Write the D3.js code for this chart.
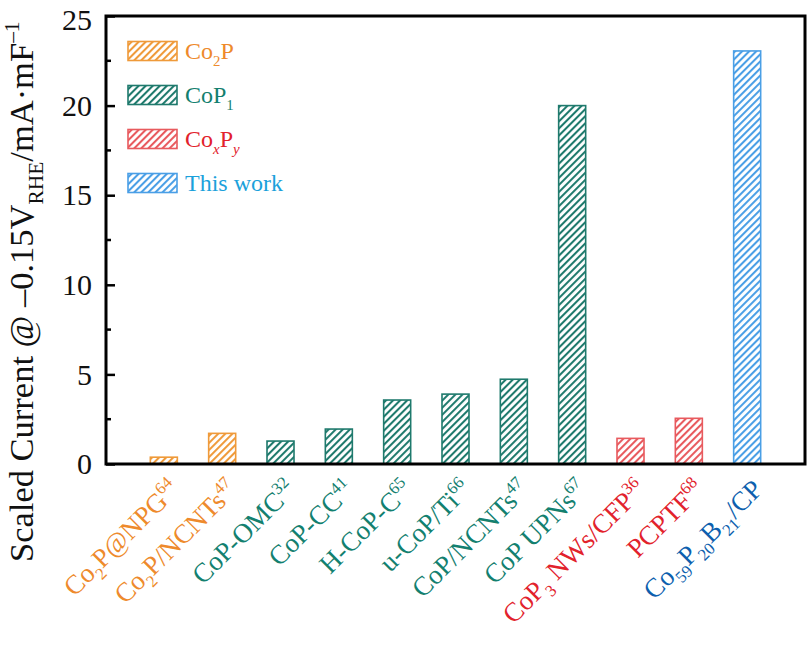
<!DOCTYPE html>
<html>
<head>
<meta charset="utf-8">
<script src="https://cdn.jsdelivr.net/npm/d3@7"></script>
<style>
  html, body { margin: 0; padding: 0; background: #fff; }
  text { font-family: "Liberation Serif", "Times New Roman", serif; }
</style>
</head>
<body>
<svg id="chart" width="811" height="646"></svg>
<script>
// label pieces: [text, "sub" | "sup" | undefined]
var labels = [
  [["Co"], ["2", "sub"], ["P@NPG"], ["64", "sup"]],
  [["Co"], ["2", "sub"], ["P/NCNTs"], ["47", "sup"]],
  [["CoP-OMC"], ["32", "sup"]],
  [["CoP-CC"], ["41", "sup"]],
  [["H-CoP-C"], ["65", "sup"]],
  [["u-CoP/Ti"], ["66", "sup"]],
  [["CoP/NCNTs"], ["47", "sup"]],
  [["CoP UPNs"], ["67", "sup"]],
  [["CoP"], ["3", "sub"], [" NWs/CFP"], ["36", "sup"]],
  [["PCPTF"], ["68", "sup"]],
  [["Co"], ["59", "sub"], ["P"], ["20", "sub"], ["B"], ["21", "sub"], ["/CP"]]
];
var values = [0.38, 1.71, 1.28, 1.95, 3.57, 3.9, 4.73, 20.0, 1.43, 2.55, 23.05];
var groups = ["co2p", "co2p", "cop", "cop", "cop", "cop", "cop", "cop", "coxpy", "coxpy", "work"];

var groupKeys = ["co2p", "cop", "coxpy", "work"];
var legendLabels = [
  [["Co"], ["2", "sub"], ["P"]],
  [["CoP"], ["1", "sub"]],
  [["Co"], ["x", "subi"], ["P"], ["y", "subi"]],
  [["This work"]]
];
var yTicks = [0, 5, 10, 15, 20, 25];
var yMinorTicks = [2.5, 7.5, 12.5, 17.5, 22.5];

/* colours per group: bar hatch, axis label, legend text */
var barColor = d3.scaleOrdinal().domain(groupKeys).range(["#ef9a3a", "#1f7a6d", "#e85a5e", "#4a9fe6"]);
var labelColor = d3.scaleOrdinal().domain(groupKeys).range(["#ee8a2c", "#13806f", "#e2222c", "#0d5fae"]);
var legendColor = d3.scaleOrdinal().domain(groupKeys).range(["#ee8a2c", "#13806f", "#e2222c", "#1ba1db"]);

var margin = { left: 106, right: 6, top: 16, bottom: 182 };
var W = 811, H = 646;

var svg = d3.select("#chart");

var x = d3.scaleBand()
  .domain(d3.range(values.length))
  .range([margin.left, W - margin.right])
  .paddingInner(0.537)
  .paddingOuter(0.76);

var y = d3.scaleLinear()
  .domain([0, 25])
  .range([H - margin.bottom, margin.top]);

/**
    Writes rich text (sub/superscripts) into a text selection.
    @private
*/
function richText(sel, parts, size) {
  var shift = 0;
  parts.forEach(function (p) {
    var mode = p[1];
    var t = sel.append("tspan").text(p[0]);
    var target = 0, fs = size;
    if (mode === "sub" || mode === "subi") { target = size * 0.28; fs = size * 0.62; }
    if (mode === "sup") { target = -size * 0.4; fs = size * 0.62; }
    if (mode === "subi") t.style("font-style", "italic");
    t.attr("font-size", fs).attr("dy", target - shift);
    shift = target;
  });
}

/* hatch patterns */
var defs = svg.append("defs");
groupKeys.forEach(function (k) {
  var p = defs.append("pattern")
    .attr("id", "hatch-" + k)
    .attr("patternUnits", "userSpaceOnUse")
    .attr("width", 5)
    .attr("height", 5)
    .attr("patternTransform", "rotate(45)");
  p.append("rect").attr("width", 5).attr("height", 5).attr("fill", "#fff");
  p.append("line")
    .attr("x1", 1).attr("y1", 0).attr("x2", 1).attr("y2", 5)
    .attr("stroke", barColor(k)).attr("stroke-width", 2.1);
});

/* bars */
svg.append("g").selectAll("rect")
  .data(values)
  .enter().append("rect")
  .attr("x", function (d, i) { return x(i); })
  .attr("y", function (d) { return y(d); })
  .attr("width", x.bandwidth())
  .attr("height", function (d) { return y(0) - y(d); })
  .attr("fill", function (d, i) { return "url(#hatch-" + groups[i] + ")"; })
  .attr("stroke", function (d, i) { return barColor(groups[i]); })
  .attr("stroke-width", 1.6);

/* y axis with inward ticks */
var yAxis = d3.axisLeft(y).tickValues(yTicks).tickSize(-9).tickPadding(14).tickFormat(d3.format("d"));
var gy = svg.append("g").attr("transform", "translate(" + margin.left + ",0)").call(yAxis);
gy.select(".domain").remove();
gy.selectAll(".tick line").attr("stroke", "#000").attr("stroke-width", 2.5);
gy.selectAll(".tick text")
  .attr("font-size", 30)
  .attr("fill", "#111")
  .style("font-family", "'Liberation Serif', serif");
/* top label sits a little lower so it stays inside the page */
gy.selectAll(".tick text").filter(function (d) { return d === 25; }).attr("dy", "0.46em");

svg.append("g").selectAll("line")
  .data(yMinorTicks)
  .enter().append("line")
  .attr("x1", margin.left).attr("x2", margin.left + 5)
  .attr("y1", function (d) { return y(d); }).attr("y2", function (d) { return y(d); })
  .attr("stroke", "#000").attr("stroke-width", 2.5);

/* frame */
svg.append("rect")
  .attr("x", margin.left)
  .attr("y", margin.top)
  .attr("width", W - margin.right - margin.left)
  .attr("height", y(0) - margin.top)
  .attr("fill", "none")
  .attr("stroke", "#000")
  .attr("stroke-width", 3);

/* x labels */
var xl = svg.append("g").selectAll("text")
  .data(labels)
  .enter().append("text")
  .attr("transform", function (d, i) {
    return "translate(" + (x(i) + x.bandwidth() / 2 + 17) + "," + (y(0) + 27) + ") rotate(-45)";
  })
  .attr("text-anchor", "end")
  .attr("font-size", 27)
  .attr("fill", function (d, i) { return labelColor(groups[i]); });
xl.each(function (d) { richText(d3.select(this), d, 27); });

/* y label */
var yl = svg.append("text")
  .attr("transform", "translate(33," + (y(0) + 98) + ") rotate(-90)")
  .attr("font-size", 34.5)
  .attr("fill", "#111");
richText(yl, [["Scaled Current @ \u20130.15V"], ["RHE", "sub"], ["/mA\u00b7mF"], ["\u20131", "sup"]], 34.5);

/* legend */
var lg = svg.append("g").selectAll("g")
  .data(groupKeys)
  .enter().append("g")
  .attr("transform", function (d, i) { return "translate(128," + (51 + i * 44) + ")"; });
lg.append("rect")
  .attr("x", 0).attr("y", -9.5)
  .attr("width", 49).attr("height", 19)
  .attr("fill", function (d) { return "url(#hatch-" + d + ")"; })
  .attr("stroke", function (d) { return barColor(d); })
  .attr("stroke-width", 1.6);
lg.append("text")
  .attr("x", 57).attr("y", 8)
  .attr("font-size", 24)
  .attr("fill", function (d) { return legendColor(d); })
  .each(function (d, i) { richText(d3.select(this), legendLabels[i], 24); });
</script>
</body>
</html>
